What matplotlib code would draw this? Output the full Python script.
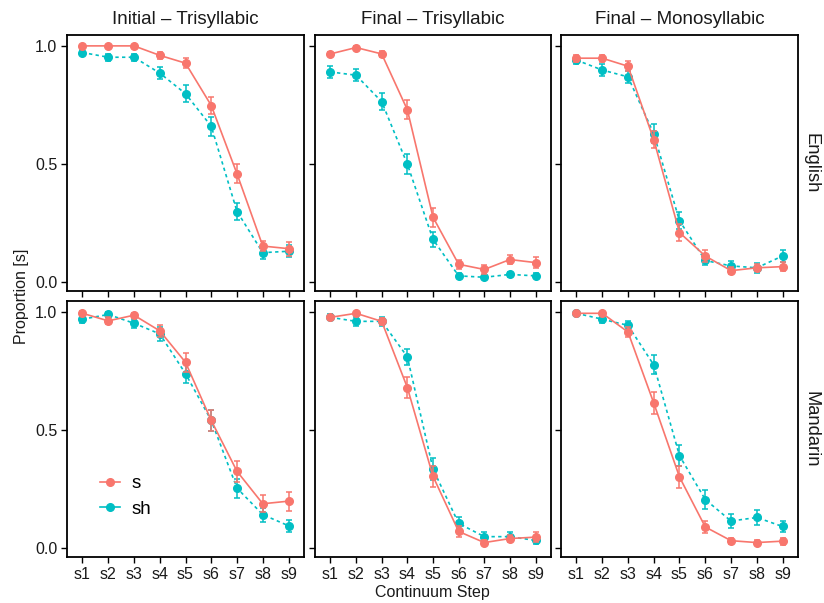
import matplotlib.pyplot as plt
from matplotlib.lines import Line2D
import numpy as np

plt.rcParams['font.family'] = ['Liberation Sans', 'DejaVu Sans']

# Dane z wykresu
steps = ['s1', 's2', 's3', 's4', 's5', 's6', 's7', 's8', 's9']
columns = ['Initial – Trisyllabic', 'Final – Trisyllabic', 'Final – Monosyllabic']
rows = ['English', 'Mandarin']

# English
eng_init_s = [1.0, 1.0, 1.0, 0.96, 0.927, 0.748, 0.459, 0.154, 0.143]
eng_init_s_err = [0.005, 0.005, 0.005, 0.015, 0.02, 0.035, 0.04, 0.02, 0.03]
eng_init_sh = [0.972, 0.952, 0.952, 0.885, 0.798, 0.66, 0.30, 0.126, 0.132]
eng_init_sh_err = [0.01, 0.015, 0.015, 0.025, 0.035, 0.04, 0.035, 0.025, 0.025]

eng_fin3_s = [0.966, 0.993, 0.966, 0.730, 0.276, 0.077, 0.055, 0.097, 0.084]
eng_fin3_s_err = [0.01, 0.005, 0.012, 0.04, 0.04, 0.018, 0.018, 0.02, 0.022]
eng_fin3_sh = [0.89, 0.876, 0.764, 0.50, 0.182, 0.028, 0.022, 0.034, 0.028]
eng_fin3_sh_err = [0.025, 0.025, 0.035, 0.042, 0.03, 0.01, 0.008, 0.01, 0.01]

eng_fin1_s = [0.948, 0.948, 0.914, 0.604, 0.211, 0.112, 0.05, 0.062, 0.067]
eng_fin1_s_err = [0.015, 0.015, 0.02, 0.035, 0.035, 0.025, 0.015, 0.015, 0.02]
eng_fin1_sh = [0.94, 0.898, 0.869, 0.629, 0.261, 0.093, 0.07, 0.062, 0.112]
eng_fin1_sh_err = [0.015, 0.025, 0.025, 0.04, 0.035, 0.02, 0.02, 0.02, 0.025]

# Mandarin
man_init_s = [0.994, 0.962, 0.986, 0.920, 0.787, 0.541, 0.326, 0.189, 0.20]
man_init_s_err = [0.008, 0.015, 0.01, 0.025, 0.04, 0.045, 0.045, 0.035, 0.04]
man_init_sh = [0.969, 0.989, 0.952, 0.907, 0.739, 0.541, 0.255, 0.143, 0.096]
man_init_sh_err = [0.015, 0.01, 0.02, 0.03, 0.04, 0.045, 0.04, 0.03, 0.025]

man_fin3_s = [0.977, 0.994, 0.960, 0.680, 0.305, 0.072, 0.025, 0.042, 0.048]
man_fin3_s_err = [0.01, 0.005, 0.015, 0.045, 0.045, 0.025, 0.012, 0.015, 0.02]
man_fin3_sh = [0.977, 0.960, 0.960, 0.81, 0.336, 0.106, 0.05, 0.05, 0.034]
man_fin3_sh_err = [0.012, 0.018, 0.018, 0.035, 0.045, 0.025, 0.018, 0.02, 0.015]

man_fin1_s = [0.994, 0.994, 0.915, 0.615, 0.302, 0.091, 0.033, 0.025, 0.031]
man_fin1_s_err = [0.005, 0.005, 0.02, 0.045, 0.045, 0.025, 0.012, 0.01, 0.015]
man_fin1_sh = [0.994, 0.969, 0.943, 0.776, 0.392, 0.207, 0.116, 0.131, 0.093]
man_fin1_sh_err = [0.005, 0.015, 0.02, 0.04, 0.045, 0.04, 0.03, 0.03, 0.025]

panels = [
    [(eng_init_s, eng_init_s_err, eng_init_sh, eng_init_sh_err),
     (eng_fin3_s, eng_fin3_s_err, eng_fin3_sh, eng_fin3_sh_err),
     (eng_fin1_s, eng_fin1_s_err, eng_fin1_sh, eng_fin1_sh_err)],
    [(man_init_s, man_init_s_err, man_init_sh, man_init_sh_err),
     (man_fin3_s, man_fin3_s_err, man_fin3_sh, man_fin3_sh_err),
     (man_fin1_s, man_fin1_s_err, man_fin1_sh, man_fin1_sh_err)],
]

RED = '#F8766D'
TEAL = '#00BFC4'
TXT = '#1a1a1a'
W, H = 824, 603

fig = plt.figure(figsize=(W / 100, H / 100), dpi=100)

# pozycje paneli w pikselach
xs = [(67, 304), (315, 551), (561, 798)]
ys = [(35, 291), (301, 557)]

x = np.arange(1, 10)
axes = []
for r in range(2):
    for c in range(3):
        x0, x1 = xs[c]
        y0, y1 = ys[r]
        ax = fig.add_axes([x0 / W, 1 - y1 / H, (x1 - x0) / W, (y1 - y0) / H])
        s, se, sh, she = panels[r][c]
        ax.errorbar(x, sh, yerr=she, color=TEAL, ls=(0, (2, 2)), lw=1.2,
                    marker='o', ms=5.5, capsize=2.5, elinewidth=1.1, capthick=1.1,
                    zorder=2)
        ax.errorbar(x, s, yerr=se, color=RED, ls='-', lw=1.2,
                    marker='o', ms=5.5, capsize=2.5, elinewidth=1.1, capthick=1.1,
                    zorder=3)
        ax.set_xlim(0.4, 9.6)
        ax.set_ylim(-0.036, 1.046)
        ax.set_xticks(x)
        ax.set_yticks([0.0, 0.5, 1.0])
        for sp in ax.spines.values():
            sp.set_linewidth(1.3)
            sp.set_color('black')
        ax.tick_params(direction='out', length=4, width=1.0, color='black',
                       labelsize=11.5, labelcolor=TXT, pad=3)
        if r == 1:
            ax.set_xticklabels(steps)
        else:
            ax.set_xticklabels([])
        if c == 0:
            ax.set_yticklabels(['0.0', '0.5', '1.0'])
        else:
            ax.set_yticklabels([])
        if r == 0:
            ax.set_title(columns[c], fontsize=13.5, pad=8, color=TXT)
        if c == 2:
            ax.text(1.055, 0.5, rows[r], transform=ax.transAxes, rotation=-90,
                    va='center', ha='center', fontsize=13.2, color=TXT)
        axes.append(ax)

# legenda w lewym dolnym panelu (bez słupków błędów)
handles = [Line2D([], [], color=RED, lw=1.2, marker='o', ms=5.5),
           Line2D([], [], color=TEAL, lw=1.2, marker='o', ms=5.5)]
axes[3].legend(handles, ['s', 'sh'], loc='center left',
               bbox_to_anchor=(0.139, 0.236), borderaxespad=0, borderpad=0,
               frameon=False, fontsize=13.5, handlelength=1.07,
               handletextpad=0.62, labelspacing=0.45)

fig.text(22 / W, 1 - 296 / H, 'Proportion [s]', rotation=90, ha='center',
         va='center', fontsize=11.5, color=TXT)
fig.text(432 / W, 1 - 592 / H, 'Continuum Step', ha='center', va='center',
         fontsize=11.5, color=TXT)

fig.savefig('out.png', dpi=100)
